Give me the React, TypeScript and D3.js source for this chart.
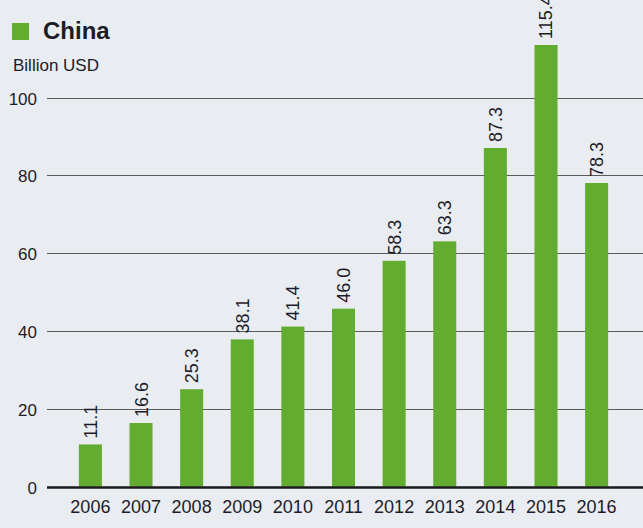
import React from "react";
import * as d3 from "d3";

const years = ["2006","2007","2008","2009","2010","2011","2012","2013","2014","2015","2016"];
const values = [11.1, 16.6, 25.3, 38.1, 41.4, 46.0, 58.3, 63.3, 87.3, 115.4, 78.3];
const yTicks = [0, 20, 40, 60, 80, 100];
const seriesName = "China";
const unitLabel = "Billion USD";

const W = 643, H = 528;
const FONT = "'Liberation Sans', Arial, sans-serif";
const PLOT_TOP = 45;

export default function App() {
  const x = d3.scaleBand<string>().domain(years).range([65.2, 621.8]).paddingInner(0.545).paddingOuter(0.27);
  const y = d3.scaleLinear().domain([0, 100]).range([487.6, 98.6]);
  const top = (v: number) => Math.max(y(v), PLOT_TOP);
  return (
    <svg width={W} height={H} style={{ position: "absolute", left: 0, top: 0, background: "#e9ecf1" }} fontFamily={FONT}>
      <rect x={0} y={0} width={W} height={H} fill="#e9ecf1" />
      {yTicks.filter(t => t > 0).map(t => (
        <line key={t} x1={47} x2={W} y1={Math.round(y(t)) - 0.5} y2={Math.round(y(t)) - 0.5} stroke="#5a5a5a" strokeWidth={1} />
      ))}
      {yTicks.map(t => (
        <text key={t} x={37} y={y(t)} dy="0.35em" textAnchor="end" fontSize={17} fill="#1c1c28">{t}</text>
      ))}
      {years.map((yr, i) => (
        <rect key={yr} x={x(yr)} y={top(values[i])} width={x.bandwidth()} height={y(0) - top(values[i]) - 1} fill="#62ad2f" />
      ))}
      <line x1={47} x2={W} y1={y(0)} y2={y(0)} stroke="#1a1a1a" strokeWidth={2.5} />
      {years.map((yr, i) => {
        const cx = (x(yr) as number) + x.bandwidth() / 2;
        const ty = top(values[i]) - 6;
        return (
          <text key={yr} transform={`translate(${cx + 6.5},${ty}) rotate(-90)`} fontSize={18} fill="#1c1c28">{values[i].toFixed(1)}</text>
        );
      })}
      {years.map(yr => (
        <text key={yr} x={(x(yr) as number) + x.bandwidth() / 2} y={513} textAnchor="middle" fontSize={18} fill="#1c1c28">{yr}</text>
      ))}
      <rect x={12} y={23} width={17} height={17} fill="#62ad2f" />
      <text x={43} y={39} fontSize={24} fontWeight={700} fill="#1c1c28">{seriesName}</text>
      <text x={13} y={71} fontSize={17} fill="#1c1c28">{unitLabel}</text>
    </svg>
  );
}
